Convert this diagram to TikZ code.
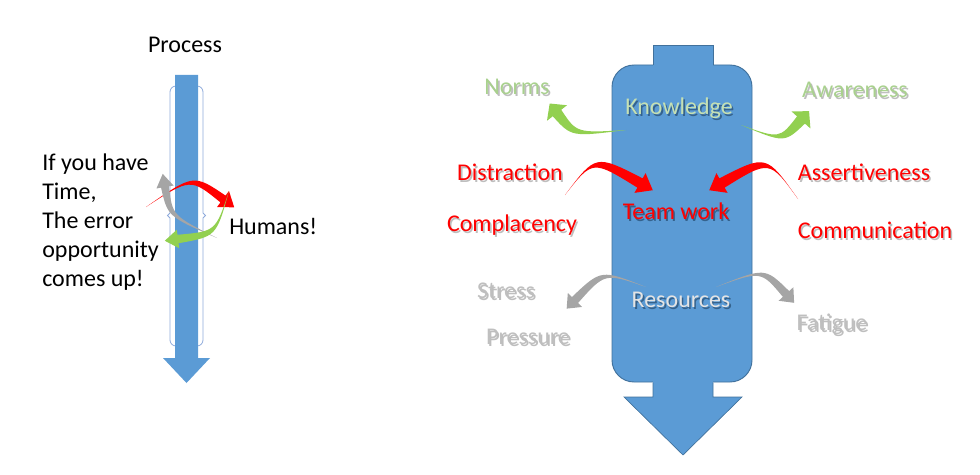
\documentclass[tikz,border=0pt]{standalone}
\usepackage{fontspec}
\setmainfont{Carlito}
\usetikzlibrary{calc}
\definecolor{boxblue}{HTML}{5B9BD5}
\definecolor{boxedge}{HTML}{41719C}
\definecolor{frameblue}{HTML}{8EAADB}
\definecolor{arrgreen}{HTML}{92D050}
\definecolor{arrred}{HTML}{FF0000}
\definecolor{arrgray}{HTML}{A5A5A5}
\definecolor{txtgreen}{HTML}{A9D18E}
\definecolor{txtgreenlt}{HTML}{C5E0B4}
\definecolor{txtgray}{HTML}{BFBFBF}
\definecolor{txtlight}{HTML}{E4E4E4}
\definecolor{shadowlt}{HTML}{BEBEBE}
\definecolor{shadowdk}{HTML}{35628C}
\newcommand\shtext[3]{\rlap{\kern1.2pt\raisebox{-1.2pt}{\textcolor{#2}{#3}}}\textcolor{#1}{#3}}
% #1 colour, #2 tail, #3 control, #4 neck centre, #5 half width, #6 head half width, #7 head length
\newcommand\carrow[7]{%
  \fill[#1] (#2) .. controls ($(#3)!0.6*#5!-90:(#4)$) .. ($(#4)!#5!90:(#3)$)
    -- ($(#4)!#6!90:(#3)$) -- ($(#4)!-#7!(#3)$) -- ($(#4)!#6!-90:(#3)$)
    -- ($(#4)!#5!-90:(#3)$) .. controls ($(#3)!0.6*#5!90:(#4)$) .. (#2) -- cycle;}
\begin{document}
\begin{tikzpicture}[x=0.75pt,y=-0.75pt,
  lbl/.style={inner sep=0pt, font=\fontsize{18}{21.6}\selectfont}]
\useasboundingbox (0,0) rectangle (980,474);

% ---------- left part ----------
\node[lbl] (process) at (185,45) {Process};
% bracket frame
\draw[frameblue, line width=0.6pt]
  (176,86) to[out=180,in=90] (170,92) -- (170,213) -- (167.5,215.5) -- (170,218)
  -- (170,340) to[out=-90,in=180] (176,346);
\draw[frameblue, line width=0.6pt]
  (197,86) to[out=0,in=90] (203,92) -- (203,213) -- (205.5,215.5) -- (203,218)
  -- (203,340) to[out=-90,in=0] (197,346);
% thin process arrow
\fill[boxblue] (175,75) -- (198,75) -- (198,358) -- (210,358) -- (186.5,383)
  -- (163,358) -- (175,358) -- cycle;
% curved arrows
\carrow{arrred}{146,207}{192,176}{223,199}{3.2pt}{7.5pt}{10.5pt}
\carrow{arrgray}{217,238}{170,216}{165,187}{3pt}{6.5pt}{10pt}
\carrow{arrgreen}{229,191}{216,234}{178,239}{3.2pt}{7pt}{10pt}

\node[lbl, anchor=west, align=left] (left) at (42,222)
  {If you have\\Time,\\The error\\opportunity\\comes up!};
\node[lbl, anchor=west] (humans) at (229,226) {Humans!};

% ---------- right part ----------
\filldraw[fill=boxblue, draw=boxedge, line width=0.7pt, rounded corners=16.5pt]
  (612,65) rectangle (752,382);
\fill[boxblue] (653,45) rectangle (713,66.5);
\draw[boxedge, line width=0.7pt] (653,65.4) -- (653,45) -- (713,45) -- (713,65.4);
\fill[boxblue] (653,380.5) -- (653,397) -- (624,397) -- (683,455) -- (742,397)
  -- (713,397) -- (713,380.5) -- cycle;
\draw[boxedge, line width=0.5pt] (653,382.6) -- (653,397) -- (624,397) -- (683,455)
  -- (742,397) -- (713,397) -- (713,382.6);

% green arrows
\carrow{arrgreen}{626,130}{574,135}{557,113}{4pt}{9.5pt}{9pt}
\carrow{arrgreen}{741,125}{782,141}{801,120}{4pt}{9.5pt}{9pt}
% red arrows
\carrow{arrred}{565,195}{594,157}{640,183}{4pt}{8.5pt}{11pt}
\carrow{arrred}{798,199}{768,157}{722,183}{4pt}{8.5pt}{11pt}
% grey arrows
\carrow{arrgray}{646,287}{603,271}{575,300}{3.2pt}{7.5pt}{9pt}
\carrow{arrgray}{716,287}{763,269}{786,294}{3.2pt}{7.5pt}{9pt}

\node[lbl] (know) at (679,109) {\shtext{txtgreenlt}{shadowdk}{Knowledge}};
\node[lbl] (norms) at (517,88) {\shtext{txtgreen}{shadowlt}{Norms}};
\node[lbl] (aware) at (855,91) {\shtext{txtgreen}{shadowlt}{Awareness}};
\node[lbl] (team) at (676,212) {\shtext{arrred}{shadowdk}{Team work}};
\node[lbl] (distr) at (510,173) {\shtext{arrred}{shadowlt}{Distraction}};
\node[lbl] (compl) at (512,226) {\shtext{arrred}{shadowlt}{Complacency}};
\node[lbl] (assert) at (864,173) {\shtext{arrred}{shadowlt}{Assertiveness}};
\node[lbl] (comm) at (875,231) {\shtext{arrred}{shadowlt}{Communication}};
\node[lbl] (res) at (681,301) {\shtext{txtlight}{shadowdk}{Resources}};
\node[lbl] (stress) at (506,292) {\shtext{txtgray}{shadowlt}{Stress}};
\node[lbl] (press) at (528,338) {\shtext{txtgray}{shadowlt}{Pressure}};
\node[lbl] (fatig) at (832,325) {\shtext{txtgray}{shadowlt}{Fatigue}};
\end{tikzpicture}
\end{document}
